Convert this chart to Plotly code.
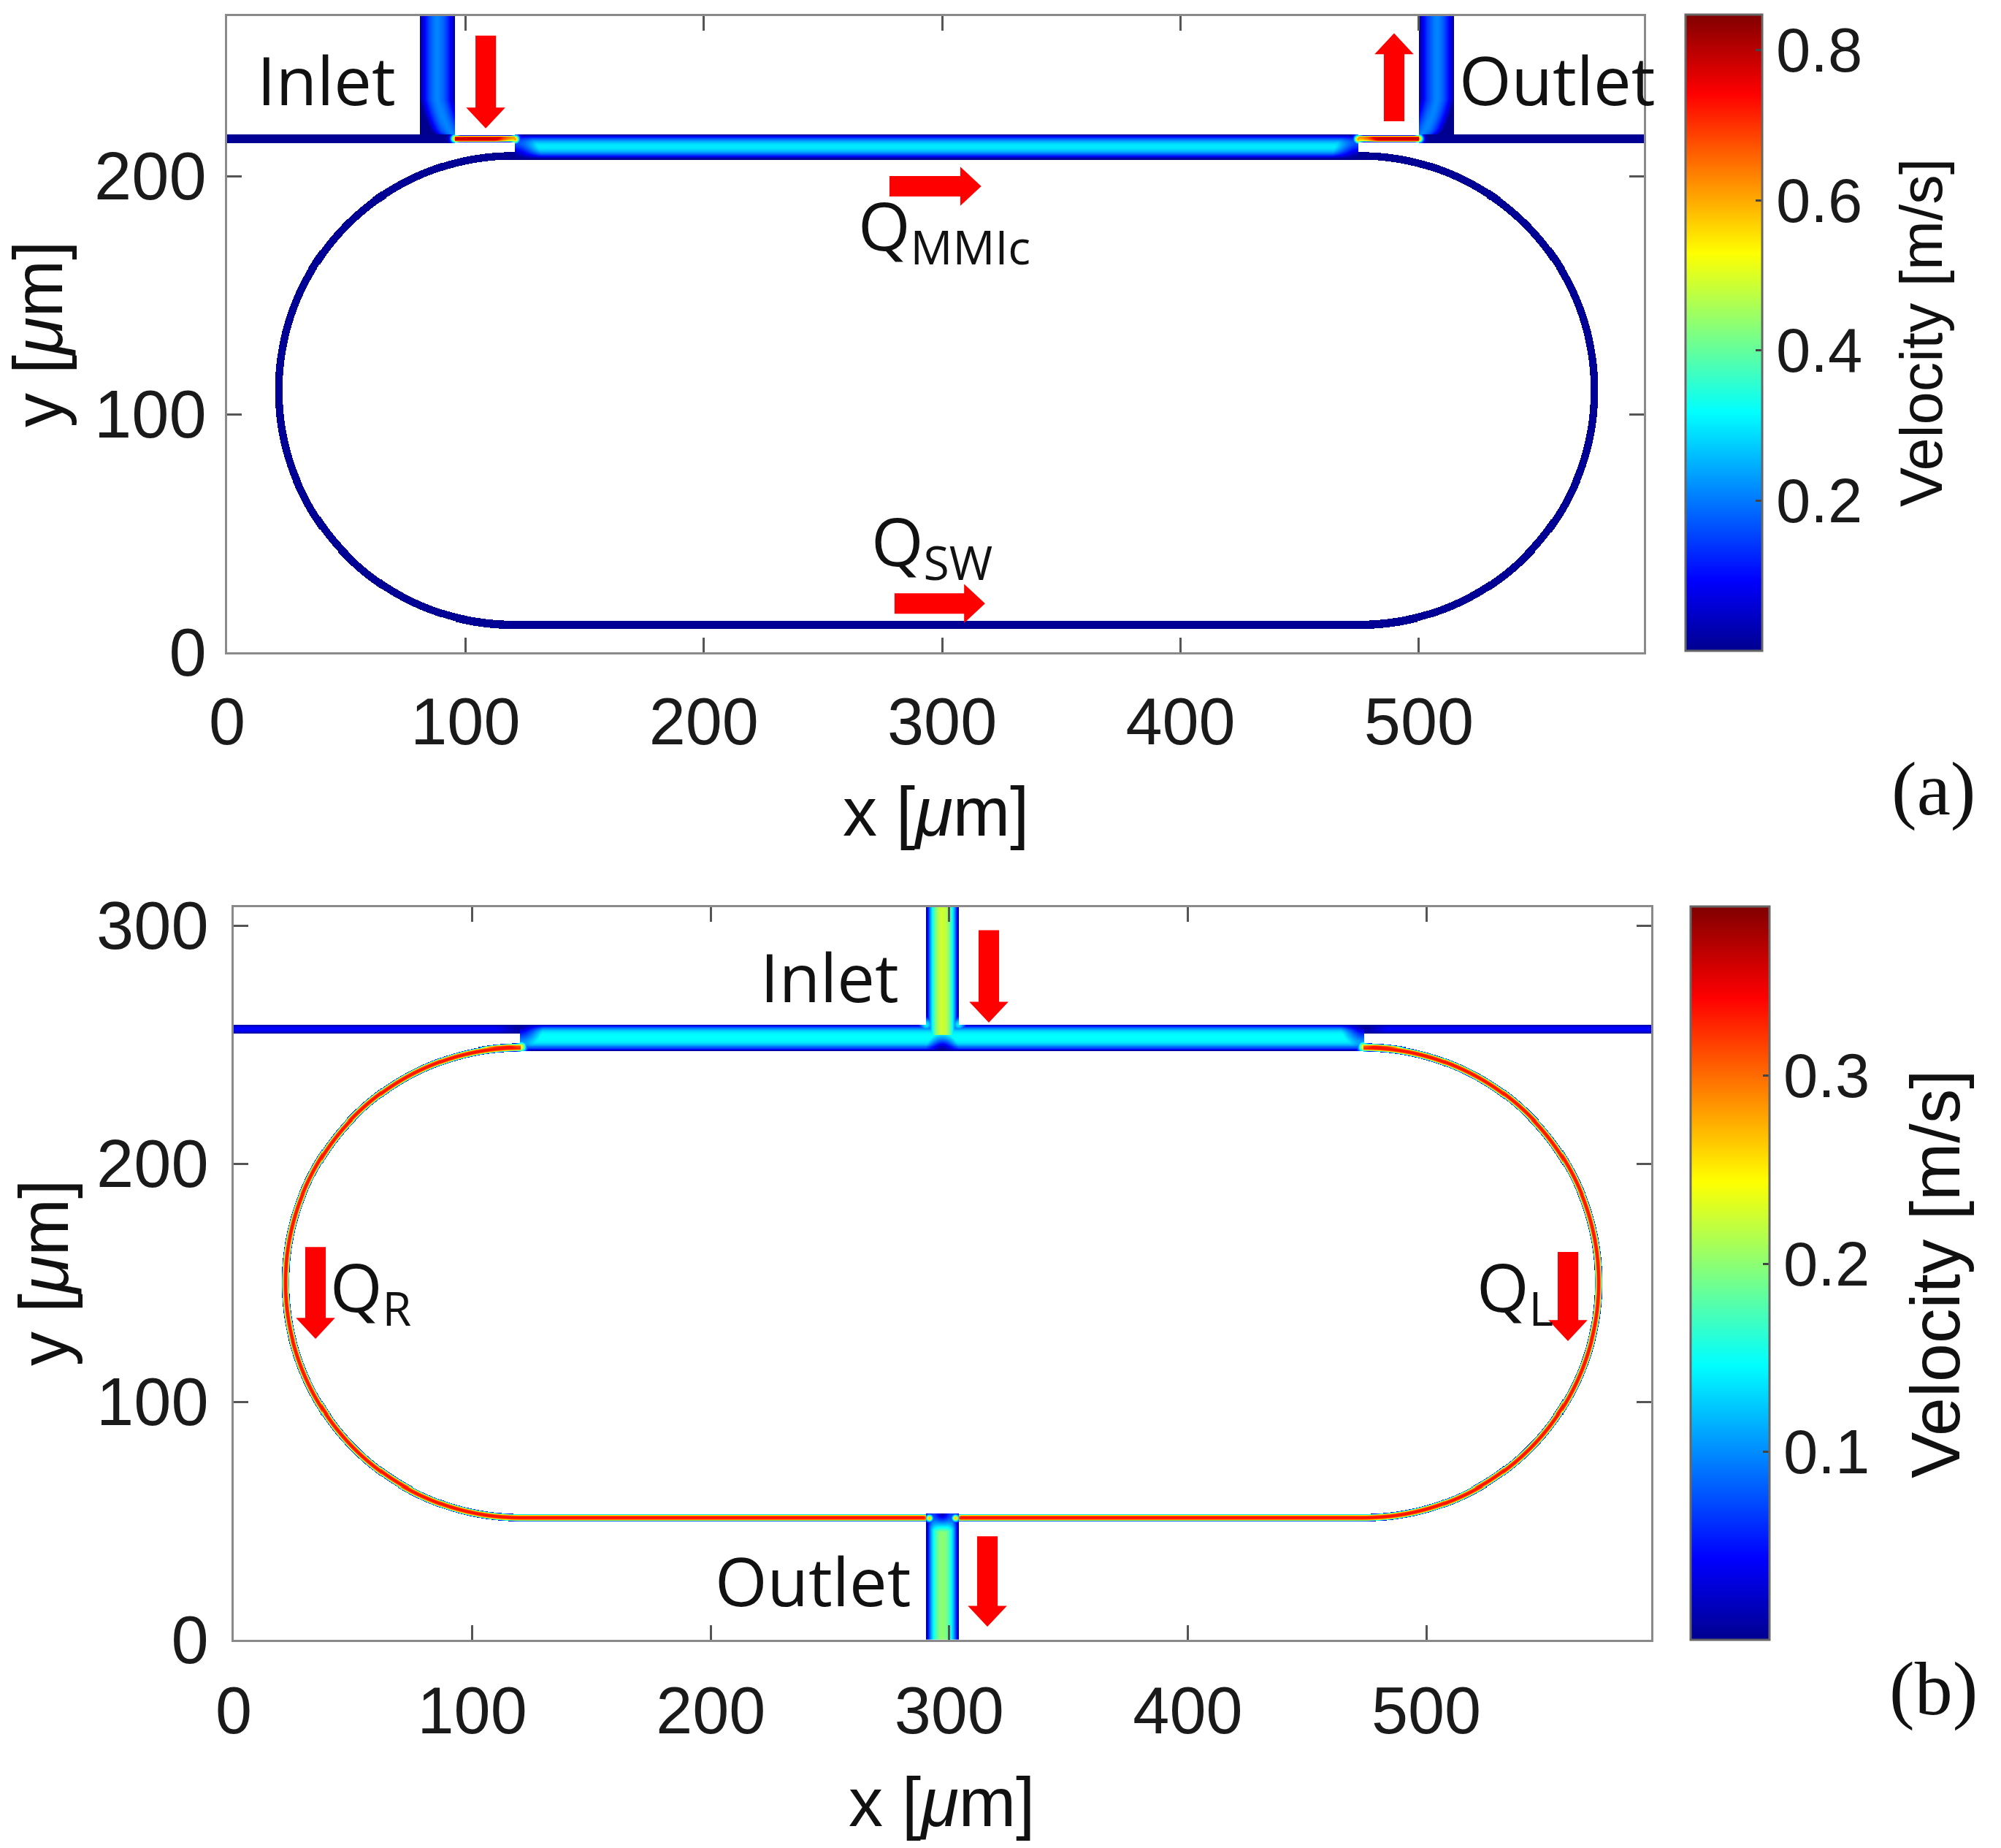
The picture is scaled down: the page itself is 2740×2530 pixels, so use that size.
import numpy as np
import plotly.graph_objects as go

W, H = 2740, 2530
STEP = 0.31

# ---- colour scale (MATLAB jet) ----
JET = [[0.0, "rgb(0,0,143)"], [0.111, "rgb(0,0,255)"], [0.375, "rgb(0,255,255)"],
       [0.625, "rgb(255,255,0)"], [0.875, "rgb(255,0,0)"], [1.0, "rgb(128,0,0)"]]

# ---- axes ----
X_TICKS = [0, 100, 200, 300, 400, 500]
Y_TICKS_A = [0, 100, 200]
Y_TICKS_B = [0, 100, 200, 300]
CBAR_TICKS_A = [0.2, 0.4, 0.6, 0.8]
CBAR_TICKS_B = [0.1, 0.2, 0.3]
X_MAX_A, Y_MAX_A, CMAX_A = 594.4, 267.2, 0.847
X_MAX_B, Y_MAX_B, CMAX_B = 594.3, 307.7, 0.39

# ---- velocity: channels (x0, x1, y0, y1, flow axis, peak m/s, profile power) ----
CHANNELS_A = [
    (0, 81, 214, 217.5, "x", 0.006, 2),
    (81, 95.6, 214, 217.5, "x", 0.006, 2),
    (95.6, 120.7, 214.3, 217.2, "x", 0.78, 4),
    (120.7, 474.6, 207.4, 217.5, "x", 0.30, 2),
    (474.6, 500, 214.3, 217.2, "x", 0.78, 4),
    (500, 514.7, 214, 217.5, "x", 0.006, 2),
    (514.7, 594.4, 214, 217.5, "x", 0.006, 2),
    (80.9, 95.6, 232.2, 267.2, "y", 0.21, 1.7),
    (500, 514.7, 232.2, 267.2, "y", 0.21, 1.7),
]
ELBOWS_A = [(95.6, 217.5, -1, 14.7, 0.21, 1.7), (500, 217.5, 1, 14.7, 0.21, 1.7)]
RING_A = (297.6, 110, 177.5, 98.5, 3.2, 0.006, 2)
RING_GAPS_A = []
DEAD_A = [(120.7, 207.4, 11), (474.6, 207.4, 11)]
HOT_A = [(95.6, 215.8, 1.3, 0.62), (120.7, 215.6, 1.3, 0.62),
         (474.6, 215.6, 1.3, 0.62), (500, 215.8, 1.3, 0.62)]

CHANNELS_B = [
    (0, 120, 254.5, 258.3, "x", 0.045, 2),
    (120, 474, 247.5, 258.3, "x", 0.146, 3),
    (474, 594.3, 254.5, 258.3, "x", 0.045, 2),
    (290.3, 304, 254, 307.7, "y", 0.225, 2.2),
    (290.3, 304, 0, 53, "y", 0.2, 2.2),
]
ELBOWS_B = []
RING_B = (297, 150, 176.5, 98.8, 3.2, 0.335, 3)
RING_GAPS_B = [(120.4, 473.8, 150, 260), (290.3, 304, 0, 60)]
DEAD_B = [(297.1, 247.5, 7), (120, 258.3, 10), (474, 258.3, 10), (297.1, 53, 8)]
HOT_B = [(120.6, 249, 1.6, 0.24), (473.6, 249, 1.6, 0.24),
         (291.6, 51, 1.1, 0.27), (302.7, 51, 1.1, 0.27),
         (290.3, 258.3, 2.2, 0.14), (304, 258.3, 2.2, 0.14)]


def field(xmax, ymax, channels, elbows, ring, gaps, dead, hot):
    xs = np.arange(STEP / 2, xmax, STEP)
    ys = np.arange(STEP / 2, ymax, STEP)
    X, Y = np.meshgrid(xs, ys)
    Z = np.full(X.shape, np.nan)

    def put(mask, val):
        Z[mask] = np.fmax(Z[mask], val[mask])

    for x0, x1, y0, y1, ax, vmax, p in channels:
        m = (X >= x0) & (X <= x1) & (Y >= y0) & (Y <= y1)
        d = np.abs(Y - (y0 + y1) / 2) / ((y1 - y0) / 2) if ax == "x" else np.abs(X - (x0 + x1) / 2) / ((x1 - x0) / 2)
        put(m, vmax * (1 - np.clip(d, 0, 1) ** p))
    for cx, cy, side, width, vmax, p in elbows:
        half = width / 2
        s = np.sqrt(np.clip((Y - cy) / width, 0, 1))
        c = cx + side * half * s
        d = np.abs(X - c) / half
        m = ((X - cx) * side >= 0) & (np.abs(X - cx) <= width) & (Y >= cy) & (Y <= cy + width + STEP)
        put(m, vmax * (1 - np.clip(d, 0, 1) ** p))
    cx, cy, half, R, w, vmax, p = ring
    dx = np.clip(np.abs(X - cx) - half, 0, None)
    dist = np.abs(np.hypot(dx, Y - cy) - R)
    m = dist <= w / 2
    for x0, x1, y0, y1 in gaps:
        m &= ~((X >= x0) & (X <= x1) & (Y >= y0) & (Y <= y1))
    put(m, vmax * (1 - np.clip(dist / (w / 2), 0, 1) ** p))
    for x0, y0, rad in dead:
        Z *= np.clip(np.hypot(X - x0, Y - y0) / rad, 0, 1)
    for x0, y0, s, peak in hot:
        g = peak * np.exp(-((X - x0) ** 2 + (Y - y0) ** 2) / (2 * s ** 2))
        live = ~np.isnan(Z)
        Z[live] = np.maximum(Z[live], g[live])
    return xs, ys, Z.astype("float32")


xa, ya, za = field(X_MAX_A, Y_MAX_A, CHANNELS_A, ELBOWS_A, RING_A, RING_GAPS_A, DEAD_A, HOT_A)
xb, yb, zb = field(X_MAX_B, Y_MAX_B, CHANNELS_B, ELBOWS_B, RING_B, RING_GAPS_B, DEAD_B, HOT_B)

FRAME_A = (311, 2251, 22, 893)
FRAME_B = (320, 2261, 1242, 2245)
CBAR_A = (2308, 2413, 20, 891)
CBAR_B = (2315, 2423, 1241, 2245)
X_TICK_FONT = dict(family="Liberation Sans", size=90, color="#1a1a1a")
Y_TICK_FONT = dict(family="Liberation Sans", size=92, color="#1a1a1a")
CB_FONT = dict(family="Liberation Sans", size=85, color="#1a1a1a")


def cbar(box, ticks, prefix):
    x0, x1, y0, y1 = box
    return dict(x=x0 / W, xanchor="left", xpad=0, ypad=0, y=1 - (y0 + y1) / 2 / H, yanchor="middle",
                len=y1 - y0, lenmode="pixels", thickness=x1 - x0, thicknessmode="pixels",
                tickvals=ticks, tickformat=".1f", ticks="inside", ticklen=10,
                tickwidth=3, tickcolor="#444", outlinecolor="#666", outlinewidth=3,
                tickfont=CB_FONT, tickprefix=prefix)


fig = go.Figure()
fig.add_trace(go.Heatmap(x=xa, y=ya, z=za, xaxis="x", yaxis="y", colorscale=JET, zmin=0, zmax=CMAX_A,
                         hoverinfo="skip", colorbar=cbar(CBAR_A, CBAR_TICKS_A, "\u2006")))
fig.add_trace(go.Heatmap(x=xb, y=yb, z=zb, xaxis="x2", yaxis="y2", colorscale=JET, zmin=0, zmax=CMAX_B,
                         hoverinfo="skip", colorbar=cbar(CBAR_B, CBAR_TICKS_B, "\u2006")))


def axis(domain, rng, ticks, anchor, standoff, font):
    return dict(domain=domain, range=rng, tickvals=ticks, ticktext=[str(t) for t in ticks], anchor=anchor,
                showgrid=False, zeroline=False, showline=True, mirror="ticks", linecolor="#8a8a8a", linewidth=3,
                ticks="inside", ticklen=20, tickwidth=3, tickcolor="#555", tickfont=font,
                ticklabelstandoff=standoff)


def xdom(f):
    return [f[0] / W, f[1] / W]


def ydom(f):
    return [1 - f[3] / H, 1 - f[2] / H]


# ---- arrows in data units: (tail x, tail y, tip x, tip y, axes suffix) ----
ARROWS = [
    (108.5, 259, 108.5, 220, ""), (489.6, 223, 489.6, 260, ""),
    (277.9, 195.7, 316.4, 195.7, ""), (280, 20.5, 318, 20.5, ""),
    (316.6, 298, 316.6, 259.2, "2"), (316, 43.5, 316, 5.5, "2"),
    (34.3, 165, 34.3, 126.4, "2"), (559.4, 162.9, 559.4, 125.5, "2"),
]
SHAFT, HEAD_W, HEAD_L = 4.3, 8.2, 8.8
shapes = []
for x0, y0, x1, y1, s in ARROWS:
    L = np.hypot(x1 - x0, y1 - y0)
    ux, uy = (x1 - x0) / L, (y1 - y0) / L
    nx, ny = -uy, ux
    bx, by = x1 - ux * HEAD_L, y1 - uy * HEAD_L
    pts = [(x0 + nx * SHAFT, y0 + ny * SHAFT), (bx + nx * SHAFT, by + ny * SHAFT),
           (bx + nx * HEAD_W, by + ny * HEAD_W), (x1, y1),
           (bx - nx * HEAD_W, by - ny * HEAD_W), (bx - nx * SHAFT, by - ny * SHAFT),
           (x0 - nx * SHAFT, y0 - ny * SHAFT)]
    path = "M " + " L ".join(f"{a:.2f},{b:.2f}" for a, b in pts) + " Z"
    shapes.append(dict(type="path", path=path, xref="x" + s, yref="y" + s,
                       fillcolor="#ff0000", line=dict(width=0), layer="above"))

SANS = "Liberation Sans"
WORD = "Open Sans"
SERIF = "Liberation Serif"
# (text, pixel x, pixel y, family, size, angle)
LABELS = [
    ("Inlet", 447, 109, WORD, 92, 0),
    ("Outlet", 2132, 109, WORD, 92, 0),
    ("Q<sub>MMIc</sub>", 1293, 313, WORD, 92, 0),
    ("Q<sub>SW</sub>", 1276, 745, WORD, 92, 0),
    ("Inlet", 1136, 1337, WORD, 92, 0),
    ("Outlet", 1113, 2163, WORD, 92, 0),
    ("Q<sub>R</sub>", 507, 1766, WORD, 92, 0),
    ("Q<sub>L</sub>", 2074, 1766, WORD, 92, 0),
    ("x [<i>\u03bc</i>m]", 1281, 1111, SANS, 94, 0),
    ("x [<i>\u03bc</i>m]", 1289, 2467, SANS, 94, 0),
    ("y [<i>\u03bc</i>m]", 52, 458, SANS, 94, -90),
    ("y [<i>\u03bc</i>m]", 60, 1743, SANS, 94, -90),
    ("Velocity [m/s]", 2631, 456, SANS, 81, -90),
    ("Velocity [m/s]", 2650, 1744, SANS, 95, -90),
    ("(a)", 2647, 1080, SERIF, 104, 0),
    ("(b)", 2647, 2312, SERIF, 104, 0),
]
annotations = [dict(text=t, x=px / W, y=1 - py / H, xref="paper", yref="paper", xanchor="center", yanchor="middle",
                    showarrow=False, textangle=ang, font=dict(family=fam, size=sz, color="#111"))
               for t, px, py, fam, sz, ang in LABELS]

fig.update_layout(
    width=W, height=H, autosize=False, margin=dict(l=0, r=0, t=0, b=0, autoexpand=False),
    paper_bgcolor="white", plot_bgcolor="white", showlegend=False,
    xaxis=axis(xdom(FRAME_A), [0, X_MAX_A], X_TICKS, "y", 15, X_TICK_FONT),
    yaxis=axis(ydom(FRAME_A), [0, Y_MAX_A], Y_TICKS_A, "x", 7, Y_TICK_FONT),
    xaxis2=axis(xdom(FRAME_B), [0, X_MAX_B], X_TICKS, "y2", 17, X_TICK_FONT),
    yaxis2=axis(ydom(FRAME_B), [0, Y_MAX_B], Y_TICKS_B, "x2", 13, Y_TICK_FONT),
    shapes=shapes, annotations=annotations,
)
fig.write_html("out.html", config={"displayModeBar": False},
               post_script="document.body.style.margin='0';document.body.style.overflow='hidden';")
